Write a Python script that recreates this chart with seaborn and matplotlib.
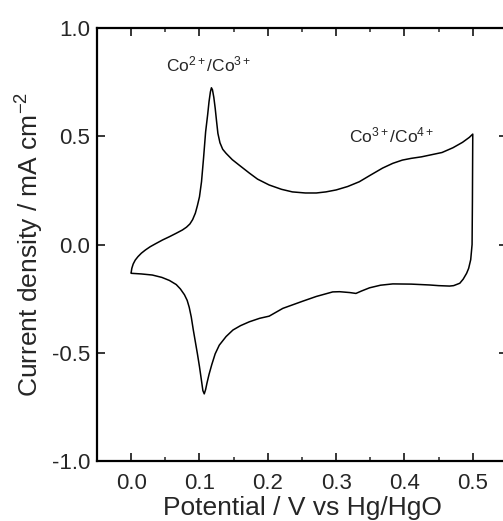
import matplotlib
matplotlib.use("Agg")
import matplotlib.pyplot as plt
import numpy as np
import pandas as pd
import seaborn as sns
from matplotlib.ticker import MultipleLocator

# anodic sweep (0 -> 0.5 V)
anodic_v = [0.000, 0.001, 0.003, 0.006, 0.010, 0.015, 0.021, 0.028, 0.036, 0.046,
            0.056, 0.066, 0.075, 0.081, 0.086, 0.090, 0.094, 0.097, 0.100, 0.103,
            0.106, 0.109, 0.112, 0.114, 0.116, 0.1175, 0.119, 0.121, 0.123, 0.125,
            0.127, 0.130, 0.134, 0.139, 0.148, 0.158, 0.173, 0.185, 0.202, 0.220,
            0.236, 0.255, 0.271, 0.285, 0.300, 0.317, 0.334, 0.350, 0.368, 0.383,
            0.397, 0.410, 0.425, 0.440, 0.455, 0.471, 0.485, 0.495, 0.500]
anodic_j = [-0.130, -0.110, -0.090, -0.072, -0.056, -0.040, -0.025, -0.010, 0.004, 0.021,
            0.036, 0.052, 0.067, 0.080, 0.095, 0.115, 0.145, 0.180, 0.220, 0.290,
            0.400, 0.520, 0.600, 0.660, 0.705, 0.724, 0.715, 0.680, 0.630, 0.570,
            0.513, 0.470, 0.440, 0.421, 0.392, 0.367, 0.330, 0.302, 0.275, 0.255,
            0.243, 0.238, 0.238, 0.243, 0.252, 0.268, 0.290, 0.320, 0.353, 0.375,
            0.390, 0.398, 0.405, 0.415, 0.425, 0.447, 0.472, 0.495, 0.510]

# cathodic sweep (0.5 -> 0 V)
cathodic_v = [0.500, 0.4995, 0.499, 0.497, 0.494, 0.491, 0.486, 0.481, 0.472, 0.466,
              0.450, 0.437, 0.410, 0.383, 0.365, 0.349, 0.337, 0.329, 0.320, 0.305,
              0.295, 0.271, 0.251, 0.222, 0.202, 0.188, 0.173, 0.160, 0.149, 0.139,
              0.129, 0.123, 0.118, 0.114, 0.111, 0.109, 0.107, 0.105, 0.103, 0.100,
              0.097, 0.094, 0.091, 0.088, 0.085, 0.082, 0.078, 0.072, 0.066, 0.056,
              0.045, 0.031, 0.015, 0.000]
cathodic_j = [0.510, 0.200, 0.000, -0.070, -0.110, -0.133, -0.160, -0.179, -0.190, -0.192,
              -0.190, -0.187, -0.183, -0.182, -0.188, -0.200, -0.215, -0.226, -0.222, -0.218,
              -0.219, -0.240, -0.262, -0.295, -0.331, -0.341, -0.357, -0.375, -0.395, -0.425,
              -0.465, -0.505, -0.555, -0.600, -0.640, -0.670, -0.690, -0.675, -0.630, -0.564,
              -0.505, -0.450, -0.395, -0.335, -0.290, -0.258, -0.232, -0.205, -0.185, -0.166,
              -0.152, -0.141, -0.136, -0.133]

df = pd.DataFrame({
    "potential": anodic_v + cathodic_v,
    "current": anodic_j + cathodic_j,
})

sns.set_style("ticks")
plt.rcParams["font.family"] = ["Liberation Sans", "DejaVu Sans"]
plt.rcParams["mathtext.fontset"] = "custom"
plt.rcParams["mathtext.rm"] = "Liberation Sans"
plt.rcParams["mathtext.it"] = "Liberation Sans"

fig = plt.figure(figsize=(5.03, 5.21), dpi=100)
ax = fig.add_axes([0.1928, 0.1152, 0.815, 0.831])

sns.lineplot(data=df, x="potential", y="current", sort=False, estimator=None,
             color="black", linewidth=1.1, ax=ax)

ax.set_xlim(-0.05, 0.55)
ax.set_ylim(-1.0, 1.0)
ax.xaxis.set_minor_locator(MultipleLocator(0.05))
ax.set_xticks([0.0, 0.1, 0.2, 0.3, 0.4, 0.5])
ax.set_xticklabels(["0.0", "0.1", "0.2", "0.3", "0.4", "0.5"])
ax.set_yticks([-1.0, -0.5, 0.0, 0.5, 1.0])
ax.set_yticklabels(["-1.0", "-0.5", "0.0", "0.5", "1.0"])

ax.tick_params(axis="both", which="major", direction="in", length=6, width=1.1,
               top=True, right=True, labelsize=16, color="black")
ax.tick_params(axis="x", which="major", pad=9)
ax.tick_params(axis="y", which="major", pad=5)
ax.tick_params(axis="x", which="minor", direction="in", length=3, width=1.1,
               top=True, bottom=True)
for s in ax.spines.values():
    s.set_linewidth(1.6)
    s.set_color("black")

ax.set_xlabel("Potential / V vs Hg/HgO", fontsize=19, labelpad=1)
ax.set_ylabel("Current density / mA cm$^{-2}$", fontsize=19, labelpad=4)

ax.text(0.113, 0.83, "Co$^{2+}$/Co$^{3+}$", fontsize=12.5, ha="center", va="center")
ax.text(0.381, 0.505, "Co$^{3+}$/Co$^{4+}$", fontsize=12.5, ha="center", va="center")

fig.savefig("out.png", dpi=100)
